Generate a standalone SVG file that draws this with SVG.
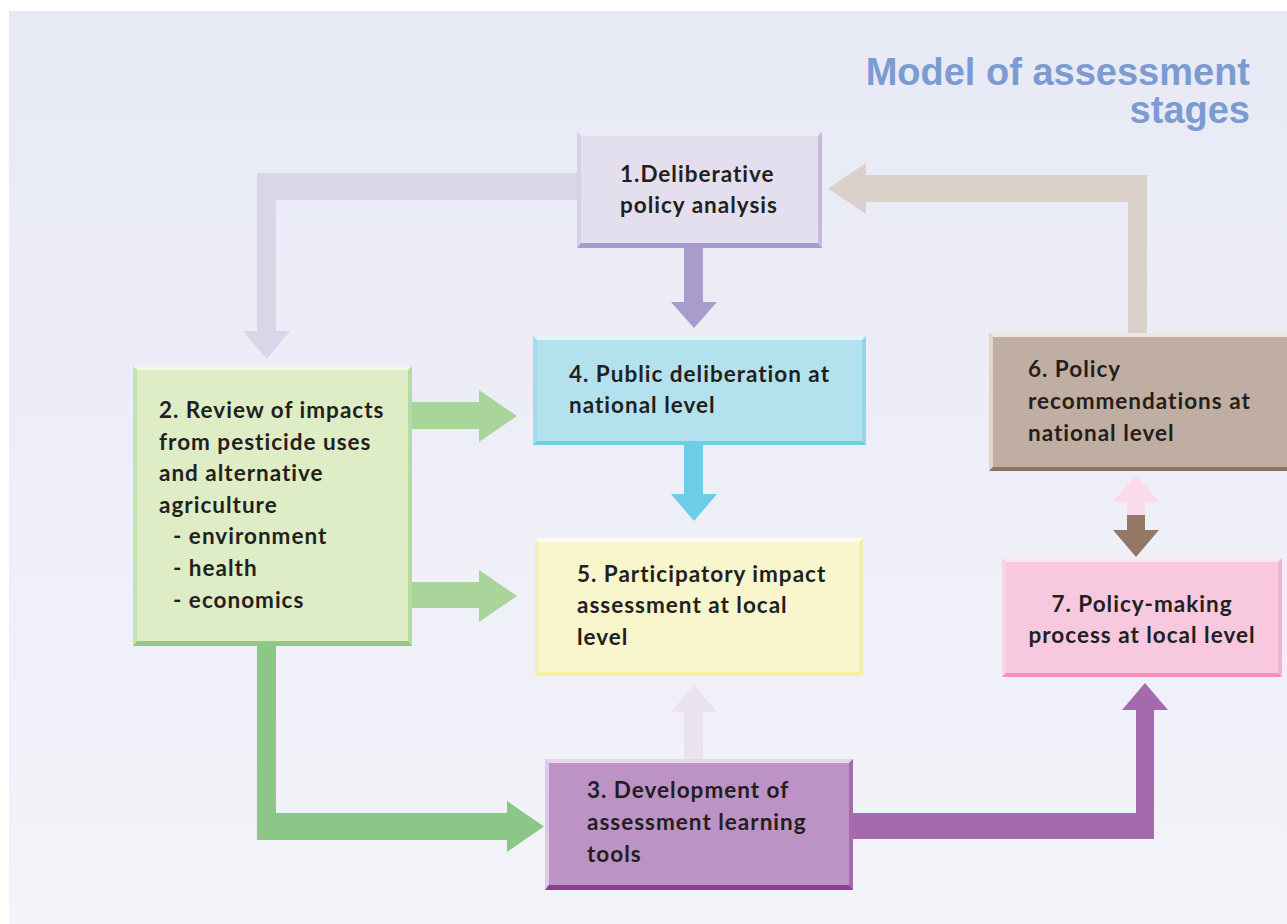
<svg xmlns="http://www.w3.org/2000/svg" width="1287" height="924" viewBox="0 0 1287 924">
<defs>
<linearGradient id="bg" x1="0" y1="0" x2="0" y2="1">
<stop offset="0" stop-color="#e7e9f5"/>
<stop offset="1" stop-color="#f3f3f9"/>
</linearGradient>
</defs>
<style>
.lbl{font-family:Lato,"Open Sans","Liberation Sans",sans-serif;font-weight:bold;font-size:22.5px;letter-spacing:1px;fill:#231f20}
.title{font-family:"Liberation Sans",Arial,sans-serif;font-weight:bold;font-size:38px;fill:#7b9bd2}
</style>
<rect x="0" y="0" width="1287" height="924" fill="#ffffff"/>
<rect x="9" y="11" width="1278" height="913" fill="url(#bg)"/>
<text class="title" text-anchor="end" x="1250" y="85">Model of assessment</text>
<text class="title" text-anchor="end" x="1250" y="123">stages</text>

<g id="connectors">
<polygon fill="#dad5e9" points="577,173 257,173 257,331 243,331 266.5,359 290,331 276,331 276,200 577,200"/>
<polygon fill="#dcd1ca" points="1128,334 1128,202 866,202 866,214 828,188.5 866,163 866,175 1147,175 1147,334"/>
<polygon fill="#a99bcc" points="684,248 703,248 703,302 717,302 694,328 671,302 684,302"/>
<polygon fill="#6bcde6" points="684,445 703,445 703,494 717,494 694,521 671,494 684,494"/>
<polygon fill="#ebe1ef" points="684,759 684,712 671,712 694,685 717,712 703,712 703,759"/>
<polygon fill="#a9d59a" points="412,402 479,402 479,390 517,416 479,442 479,429 412,429"/>
<polygon fill="#a9d59a" points="412,582 479,582 479,570 517,596 479,622 479,608 412,608"/>
<polygon fill="#8cc787" points="257,646 276,646 276,813 507,813 507,801 544,826.5 507,852 507,840 257,840"/>
<polygon fill="#a46aad" points="853,813 1136,813 1136,710 1122,710 1145,683 1168,710 1154,710 1154,839 853,839"/>
<polygon fill="#fbdce8" points="1127,515 1127,502 1113,502 1136,474 1159,502 1145,502 1145,515"/>
<polygon fill="#957765" points="1127,515 1145,515 1145,530 1159,530 1136,557 1113,530 1127,530"/>
</g>

<g id="node1">
<rect x="577" y="132" width="245" height="116" fill="#e3dfee"/>
<polygon fill="#eeebf5" points="577,132 822,132 818,136 581,136"/>
<polygon fill="#d8d1e8" points="577,132 581,136 581,243 577,248"/>
<polygon fill="#c6b9dd" points="822,132 822,248 818,243 818,136"/>
<polygon fill="#a99bcc" points="577,248 581,243 818,243 822,248"/>
<text class="lbl" x="620" y="182">1.Deliberative</text>
<text class="lbl" x="620" y="213">policy analysis</text>
</g>

<g id="node2">
<rect x="133" y="366" width="279" height="280" fill="#dfedc6"/>
<polygon fill="#f0f7e4" points="133,366 412,366 408,370 137,370"/>
<polygon fill="#c5e3b0" points="133,366 137,370 137,641 133,646"/>
<polygon fill="#b5dba1" points="412,366 412,646 408,641 408,370"/>
<polygon fill="#8fc98a" points="133,646 137,641 408,641 412,646"/>
<text class="lbl" x="159" y="418">2. Review of impacts</text>
<text class="lbl" x="159" y="450">from pesticide uses</text>
<text class="lbl" x="159" y="481">and alternative</text>
<text class="lbl" x="159" y="513">agriculture</text>
<text class="lbl" x="173" y="544">- environment</text>
<text class="lbl" x="173" y="576">- health</text>
<text class="lbl" x="173" y="608">- economics</text>
</g>

<g id="node4">
<rect x="533" y="336" width="333" height="109" fill="#b3e2ee"/>
<polygon fill="#e4f5fa" points="533,336 866,336 862,340 537,340"/>
<polygon fill="#a3dcec" points="533,336 537,340 537,441 533,445"/>
<polygon fill="#8fd7ea" points="866,336 866,445 862,441 862,340"/>
<polygon fill="#6bcde6" points="533,445 537,441 862,441 866,445"/>
<text class="lbl" x="569" y="382">4. Public deliberation at</text>
<text class="lbl" x="569" y="413">national level</text>
</g>

<g id="node5">
<rect x="535" y="538" width="328" height="138" fill="#f9f5cc"/>
<polygon fill="#fdfbec" points="535,538 863,538 859,542 539,542"/>
<polygon fill="#f3efc3" points="535,538 539,542 539,672 535,676"/>
<polygon fill="#f2ebb3" points="863,538 863,676 859,672 859,542"/>
<polygon fill="#f6ef9c" points="535,676 539,672 859,672 863,676"/>
<text class="lbl" x="577" y="582">5. Participatory impact</text>
<text class="lbl" x="577" y="613">assessment at local</text>
<text class="lbl" x="577" y="645">level</text>
</g>

<g id="node3">
<rect x="545" y="759" width="308" height="131" fill="#bc93c4"/>
<polygon fill="#e5d6e9" points="545,759 853,759 849,763 549,763"/>
<polygon fill="#dccbe2" points="545,759 549,763 549,885 545,890"/>
<polygon fill="#a56bb0" points="853,759 853,890 849,885 849,763"/>
<polygon fill="#8e3d93" points="545,890 549,885 849,885 853,890"/>
<text class="lbl" x="587" y="798">3. Development of</text>
<text class="lbl" x="587" y="830">assessment learning</text>
<text class="lbl" x="587" y="862">tools</text>
</g>

<g id="node6">
<rect x="989" y="333" width="304" height="138" fill="#c1aea2"/>
<polygon fill="#ebe6e0" points="989,333 1293,333 1289,337 993,337"/>
<polygon fill="#e0d6cf" points="989,333 993,337 993,467 989,471"/>
<polygon fill="#8e7362" points="989,471 993,467 1289,467 1293,471"/>
<text class="lbl" x="1028" y="377">6. Policy</text>
<text class="lbl" x="1028" y="409">recommendations at</text>
<text class="lbl" x="1028" y="441">national level</text>
</g>

<g id="node7">
<rect x="1002" y="558" width="280" height="119" fill="#f7c8de"/>
<polygon fill="#fce6f0" points="1002,558 1282,558 1278,562 1006,562"/>
<polygon fill="#f9d5e5" points="1002,558 1006,562 1006,673 1002,677"/>
<polygon fill="#f3b3cf" points="1282,558 1282,677 1278,673 1278,562"/>
<polygon fill="#f490b9" points="1002,677 1006,673 1278,673 1282,677"/>
<text class="lbl" text-anchor="middle" x="1142" y="612">7. Policy-making</text>
<text class="lbl" text-anchor="middle" x="1142" y="643">process at local level</text>
</g>
</svg>
